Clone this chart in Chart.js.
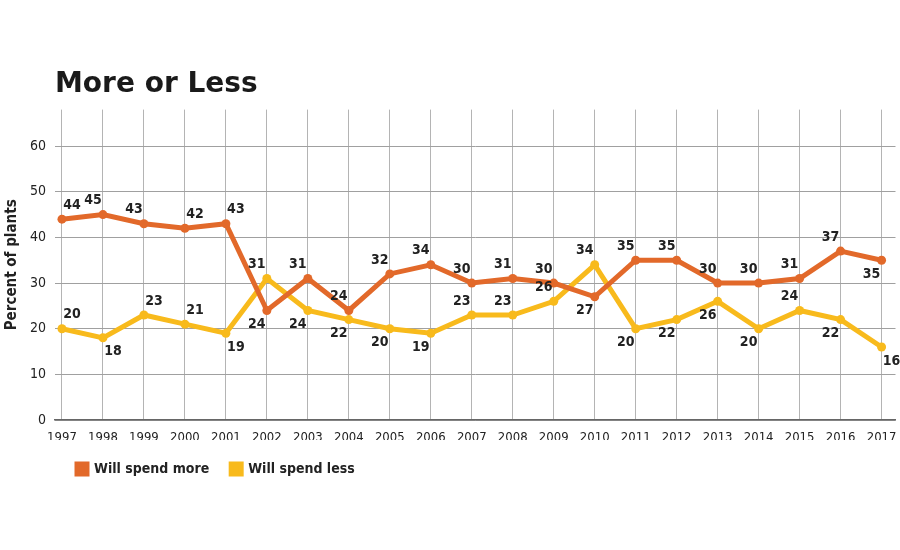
<!DOCTYPE html>
<html>
<head>
<meta charset="utf-8">
<script src="https://cdn.jsdelivr.net/npm/chart.js@4/dist/chart.umd.min.js"></script>
<style>
  html, body { margin: 0; padding: 0; background: #fff; }
  #wrap { width: 900px; height: 550px; position: relative; }
</style>
</head>
<body>
<div id="wrap"><canvas id="c" width="900" height="550"></canvas></div>
<script>
// ---- data ----
const years = [1997,1998,1999,2000,2001,2002,2003,2004,2005,2006,2007,2008,2009,2010,2011,2012,2013,2014,2015,2016,2017];
const willSpendMore = [44,45,43,42,43,24,31,24,32,34,30,31,30,27,35,35,30,30,31,37,35];
const willSpendLess = [20,18,23,21,19,31,24,22,20,19,23,23,26,34,20,22,26,20,24,22,16];
const yTicks = [0,10,20,30,40,50,60];
const seriesNames = ['Will spend more', 'Will spend less'];
// label placement: r/l = right/left, a/b = above/below
const morePlace = ['ra','la','la','ra','ra','lb','la','la','la','la','la','la','la','lb','la','la','la','la','la','la','lb'];
const lessPlace = ['ra','rb','ra','ra','rb','la','lb','lb','lb','lb','la','la','la','la','lb','lb','lb','lb','la','lb','rb'];

const ORANGE = '#E2692A';
const YELLOW = '#F8BA1C';
const NARROW = "'Liberation Sans Narrow', 'DejaVu Sans Condensed', 'Roboto', sans-serif";

const labelPlugin = {
  id: 'pointLabels',
  afterDatasetsDraw(chart) {
    const ctx = chart.ctx;
    const places = [morePlace, lessPlace];
    ctx.save();
    ctx.font = "bold 14px " + NARROW;
    ctx.fillStyle = '#222';
    ctx.textAlign = 'center';
    ctx.textBaseline = 'middle';
    chart.data.datasets.forEach((ds, di) => {
      const meta = chart.getDatasetMeta(di);
      meta.data.forEach((pt, i) => {
        const p = places[di][i];
        const dx = p[0] === 'r' ? 10 : -10;
        const dy = p[1] === 'a' ? -14 : 14;
        ctx.fillText(String(ds.data[i].y), pt.x + dx, pt.y + dy);
      });
    });
    ctx.restore();
  }
};

new Chart(document.getElementById('c'), {
  type: 'line',
  data: {
    datasets: [
      {
        label: seriesNames[0],
        data: years.map((y, i) => ({ x: y, y: willSpendMore[i] })),
        borderColor: ORANGE, backgroundColor: ORANGE,
        borderWidth: 5, pointRadius: 4.5, pointBorderWidth: 0,
        pointBackgroundColor: ORANGE, tension: 0
      },
      {
        label: seriesNames[1],
        data: years.map((y, i) => ({ x: y, y: willSpendLess[i] })),
        borderColor: YELLOW, backgroundColor: YELLOW,
        borderWidth: 5, pointRadius: 4.5, pointBorderWidth: 0,
        pointBackgroundColor: YELLOW, tension: 0
      }
    ]
  },
  options: {
    responsive: false,
    animation: false,
    layout: { padding: { left: 0, right: 3, top: 0, bottom: 64 } },
    scales: {
      x: {
        type: 'linear',
        min: 1996.83,
        max: 2017.34,
        afterBuildTicks: (s) => { s.ticks = years.map(v => ({ value: v })); },
        afterFit: (s) => { s.height = 20; s.paddingLeft = 0; s.paddingRight = 0; },
        grid: { color: '#b4b4b4', lineWidth: 1, drawTicks: false },
        border: { display: true, color: '#666', width: 1.5 },
        ticks: {
          padding: 10,
          autoSkip: false,
          maxRotation: 0,
          color: '#222',
          font: { family: NARROW, size: 13 },
          callback: (v) => String(v)
        }
      },
      y: {
        min: 0,
        max: 68,
        afterBuildTicks: (s) => { s.ticks = yTicks.map(v => ({ value: v })); },
        afterFit: (s) => { s.width = 55; },
        grid: { color: '#a0a0a0', lineWidth: 1, drawTicks: false },
        border: { display: false },
        ticks: {
          padding: 9,
          color: '#222',
          font: { family: NARROW, size: 14 }
        },
        title: {
          display: true,
          text: 'Percent of plants',
          color: '#222',
          padding: { top: 3, bottom: 0 },
          font: { family: NARROW, size: 15, weight: 'bold' }
        }
      }
    },
    plugins: {
      title: {
        display: true,
        text: 'More or Less',
        align: 'start',
        fullSize: false,
        color: '#1a1a1a',
        font: { family: "'DejaVu Sans', sans-serif", size: 28, weight: 'bold' },
        padding: { top: 68, bottom: 8 }
      },
      legend: {
        display: true,
        position: 'bottom',
        align: 'start',
        fullSize: false,
        labels: {
          boxWidth: 10,
          boxHeight: 10,
          padding: 22,
          color: '#222',
          font: { family: NARROW, size: 14, weight: 'bold' }
        }
      },
      tooltip: { enabled: false }
    }
  },
  plugins: [labelPlugin]
});
</script>
</body>
</html>
